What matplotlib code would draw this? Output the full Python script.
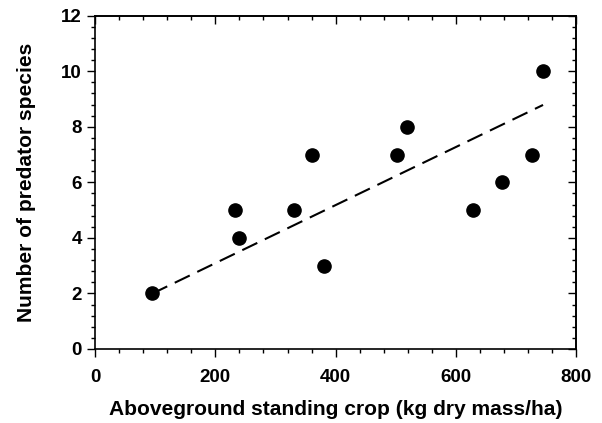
import numpy as np
import matplotlib
matplotlib.use("Agg")
import matplotlib.pyplot as plt
from matplotlib.ticker import MultipleLocator

# standing crop (kg dry mass/ha) and number of predator species
standing_crop = [95, 233, 240, 331, 360, 381, 502, 518, 629, 676, 726, 745]
predator_species = [2, 5, 4, 5, 7, 3, 7, 8, 5, 6, 7, 10]

# regression line as drawn in the figure
fit_slope = 0.01045
fit_intercept = 1.0

plt.rcParams['font.family'] = ['Liberation Sans', 'DejaVu Sans']
plt.rcParams['font.weight'] = 'bold'

fig = plt.figure(figsize=(6.02, 4.23), dpi=100)
ax = fig.add_axes([0.158, 0.175, 0.799, 0.788])

x = np.array(standing_crop)
y = np.array(predator_species)
ax.plot(x, y, 'o', color='black', markersize=9.5, zorder=3)

xx = np.array([x.min(), x.max()])
ax.plot(xx, fit_slope * xx + fit_intercept, color='black', linewidth=1.5,
        dashes=(8, 4), zorder=2)

ax.set_xlim(0, 800)
ax.set_ylim(0, 12)

for s in ax.spines.values():
    s.set_linewidth(1.2)


def set_ticks(axis):
    axis.set_major_locator(MultipleLocator(200 if axis.axis_name == 'x' else 2))
    axis.set_minor_locator(MultipleLocator(40 if axis.axis_name == 'x' else 0.4))


set_ticks(ax.xaxis)
set_ticks(ax.yaxis)
ax.tick_params(which='both', width=1.0, labelsize=13.5, direction='out')
ax.tick_params(which='major', length=5.5)
ax.tick_params(which='minor', length=3)
ax.tick_params(axis='x', pad=9)
ax.tick_params(axis='y', pad=4)

# inward ticks on top and right
top = ax.secondary_xaxis('top')
right = ax.secondary_yaxis('right')
set_ticks(top.xaxis)
set_ticks(right.yaxis)
for sec in (top, right):
    sec.tick_params(which='both', direction='in', width=1.0,
                    labelleft=False, labelright=False, labeltop=False,
                    labelbottom=False)
    sec.tick_params(which='major', length=5.5)
    sec.tick_params(which='minor', length=3)
    for s in sec.spines.values():
        s.set_linewidth(1.2)

ax.set_xlabel('Aboveground standing crop (kg dry mass/ha)', fontsize=15.1,
              fontweight='bold', labelpad=10)
ax.set_ylabel('Number of predator species', fontsize=15.1,
              fontweight='bold', labelpad=18)

fig.savefig('out.png', dpi=100)
